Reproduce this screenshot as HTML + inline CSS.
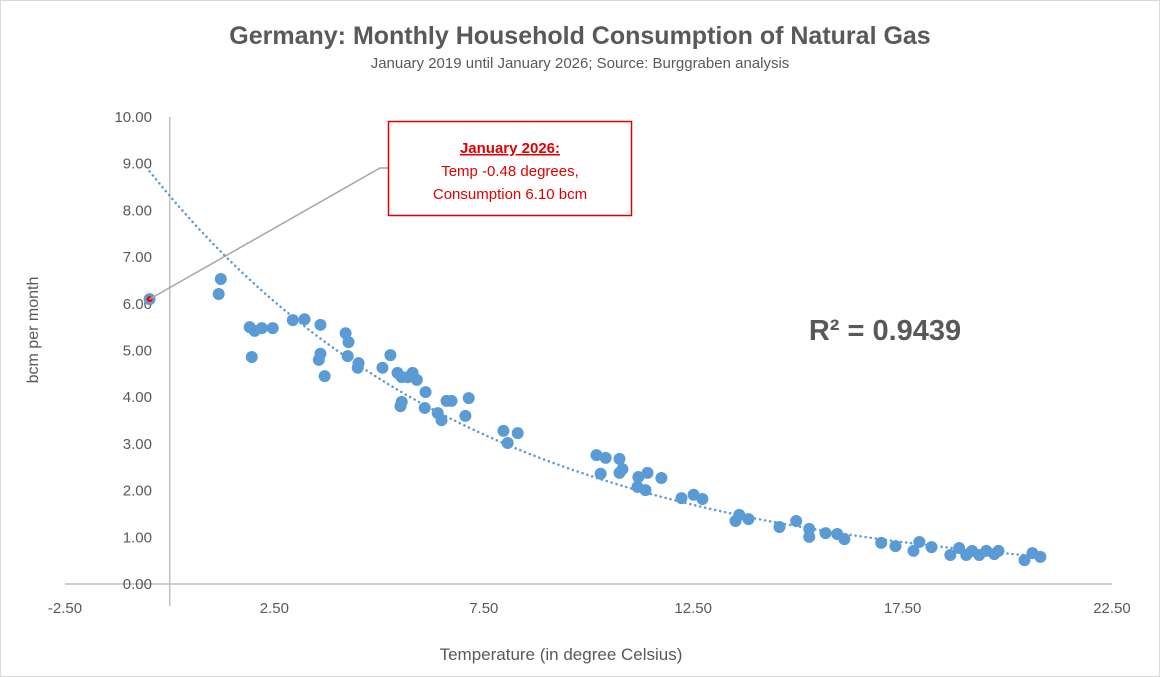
<!DOCTYPE html>
<html><head><meta charset="utf-8"><style>
body{margin:0;background:#fff}
svg{display:block;font-family:"Liberation Sans",Arial,sans-serif}
</style></head><body>
<svg id="chart" width="1160" height="677">
<rect x="0.5" y="0.5" width="1159" height="676" fill="#fff" stroke="#d9d9d9"/>
<text x="580" y="44" text-anchor="middle" font-size="25" font-weight="bold" fill="#595959">Germany: Monthly Household Consumption of Natural Gas</text>
<text x="580" y="68" text-anchor="middle" font-size="15" fill="#595959">January 2019 until January 2026; Source: Burggraben analysis</text>
<g id="axes"></g>
<g id="trend"></g>
<g id="points"></g>
<text x="885" y="340" text-anchor="middle" font-size="29" font-weight="bold" fill="#595959">R² = 0.9439</text>
<text transform="translate(38,330) rotate(-90)" text-anchor="middle" font-size="16" fill="#595959">bcm per month</text>
<text x="561" y="660" text-anchor="middle" font-size="17" fill="#595959">Temperature (in degree Celsius)</text>
<polyline id="leader" fill="none" stroke="#a6a6a6" stroke-width="1.5"/>
<rect x="388.5" y="121.5" width="243" height="94" fill="#fff" stroke="#e00000" stroke-width="1.5"/>
<text x="510" y="153" text-anchor="middle" font-size="15" font-weight="bold" fill="#e00000" text-decoration="underline">January 2026:</text>
<text x="510" y="176" text-anchor="middle" font-size="15" fill="#e00000">Temp -0.48 degrees,</text>
<text x="510" y="199" text-anchor="middle" font-size="15" fill="#e00000">Consumption 6.10 bcm</text>
</svg>
<script>
const temps=[-0.48,1.22,1.17,1.91,2.03,2.20,2.46,1.96,2.94,3.22,3.60,3.60,3.56,3.70,4.20,4.27,4.25,4.51,4.49,5.08,5.27,5.44,5.54,5.68,5.80,5.90,6.11,5.54,5.51,6.09,6.40,6.49,6.61,6.73,7.14,7.06,7.97,8.07,8.31,10.19,10.41,10.74,10.29,10.74,10.81,11.19,11.41,11.74,11.17,11.36,12.22,12.51,12.72,13.51,13.60,13.82,14.56,14.96,15.27,15.27,15.66,15.94,16.11,16.99,17.33,17.76,17.90,18.19,18.64,18.85,19.02,19.16,19.33,19.50,19.69,19.79,20.41,20.60,20.79];
const consumption=[6.10,6.53,6.21,5.50,5.42,5.48,5.48,4.86,5.65,5.67,5.55,4.93,4.80,4.45,5.37,5.18,4.88,4.73,4.63,4.63,4.90,4.52,4.43,4.43,4.52,4.37,4.11,3.90,3.81,3.77,3.66,3.51,3.92,3.92,3.98,3.60,3.28,3.02,3.23,2.76,2.70,2.68,2.36,2.38,2.46,2.29,2.38,2.27,2.08,2.01,1.84,1.91,1.82,1.35,1.48,1.39,1.22,1.35,1.18,1.01,1.09,1.07,0.96,0.88,0.81,0.71,0.90,0.79,0.62,0.77,0.62,0.71,0.62,0.71,0.64,0.71,0.51,0.66,0.58];
const xTicks=[-2.5,2.5,7.5,12.5,17.5,22.5];
const yTicks=[0,1,2,3,4,5,6,7,8,9,10];
const highlightIndex=0;
const NS="http://www.w3.org/2000/svg";
const X0=65,X1=1112,Y0=584,Y1=117;
const sx=v=>X0+(v-(-2.5))/25*(X1-X0);
const sy=v=>Y0-(v/10)*(Y0-Y1);
function mk(tag,attrs,parent){const e=document.createElementNS(NS,tag);for(const k in attrs)e.setAttribute(k,attrs[k]);parent.appendChild(e);return e;}
const axes=document.getElementById('axes');
let l=mk('line',{x1:X0,x2:X1,y1:Y0,y2:Y0,stroke:'#bfbfbf','stroke-width':1.5},axes);


l=mk('line',{x1:sx(0),x2:sx(0),y1:Y1,y2:Y0+22,stroke:'#bfbfbf','stroke-width':1.5},axes);


xTicks.forEach(t=>{const e=mk('text',{x:sx(t),y:613,'text-anchor':'middle','font-size':15,fill:'#595959'},axes);e.textContent=t.toFixed(2);

});
yTicks.forEach(t=>{const e=mk('text',{x:152,y:sy(t)+5,'text-anchor':'end','font-size':15,fill:'#595959'},axes);e.textContent=t.toFixed(2);

});
// exponential fit (log-linear least squares)
let n=temps.length,sX=0,sY=0,sXX=0,sXY=0;
temps.forEach((x,i)=>{const y=Math.log(consumption[i]);sX+=x;sY+=y;sXX+=x*x;sXY+=x*y;});
const b=(n*sXY-sX*sY)/(n*sXX-sX*sX),a=Math.exp((sY-b*sX)/n);
const xmin=Math.min(...temps),xmax=Math.max(...temps);
let pts=[];for(let k=0;k<=100;k++){const x=xmin+(xmax-xmin)*k/100;pts.push(sx(x).toFixed(1)+','+sy(a*Math.exp(b*x)).toFixed(1));}
const tr=mk('polyline',{points:pts.join(' '),fill:'none',stroke:'#5b9bd5','stroke-width':2.5,'stroke-dasharray':'0.1 5','stroke-linecap':'round'},document.getElementById('trend'));


const pg=document.getElementById('points');
temps.forEach((x,i)=>{const c=mk('circle',{cx:sx(x),cy:sy(consumption[i]),r:6,fill:'#5b9bd5'},pg);

});
const hx=sx(temps[highlightIndex]),hy=sy(consumption[highlightIndex]);
const hc=mk('circle',{cx:hx,cy:hy,r:3,fill:'#ff0000'},pg);


document.getElementById('leader').setAttribute('points',hx+','+hy+' 380,168 388,168');
</script>
</body></html>
